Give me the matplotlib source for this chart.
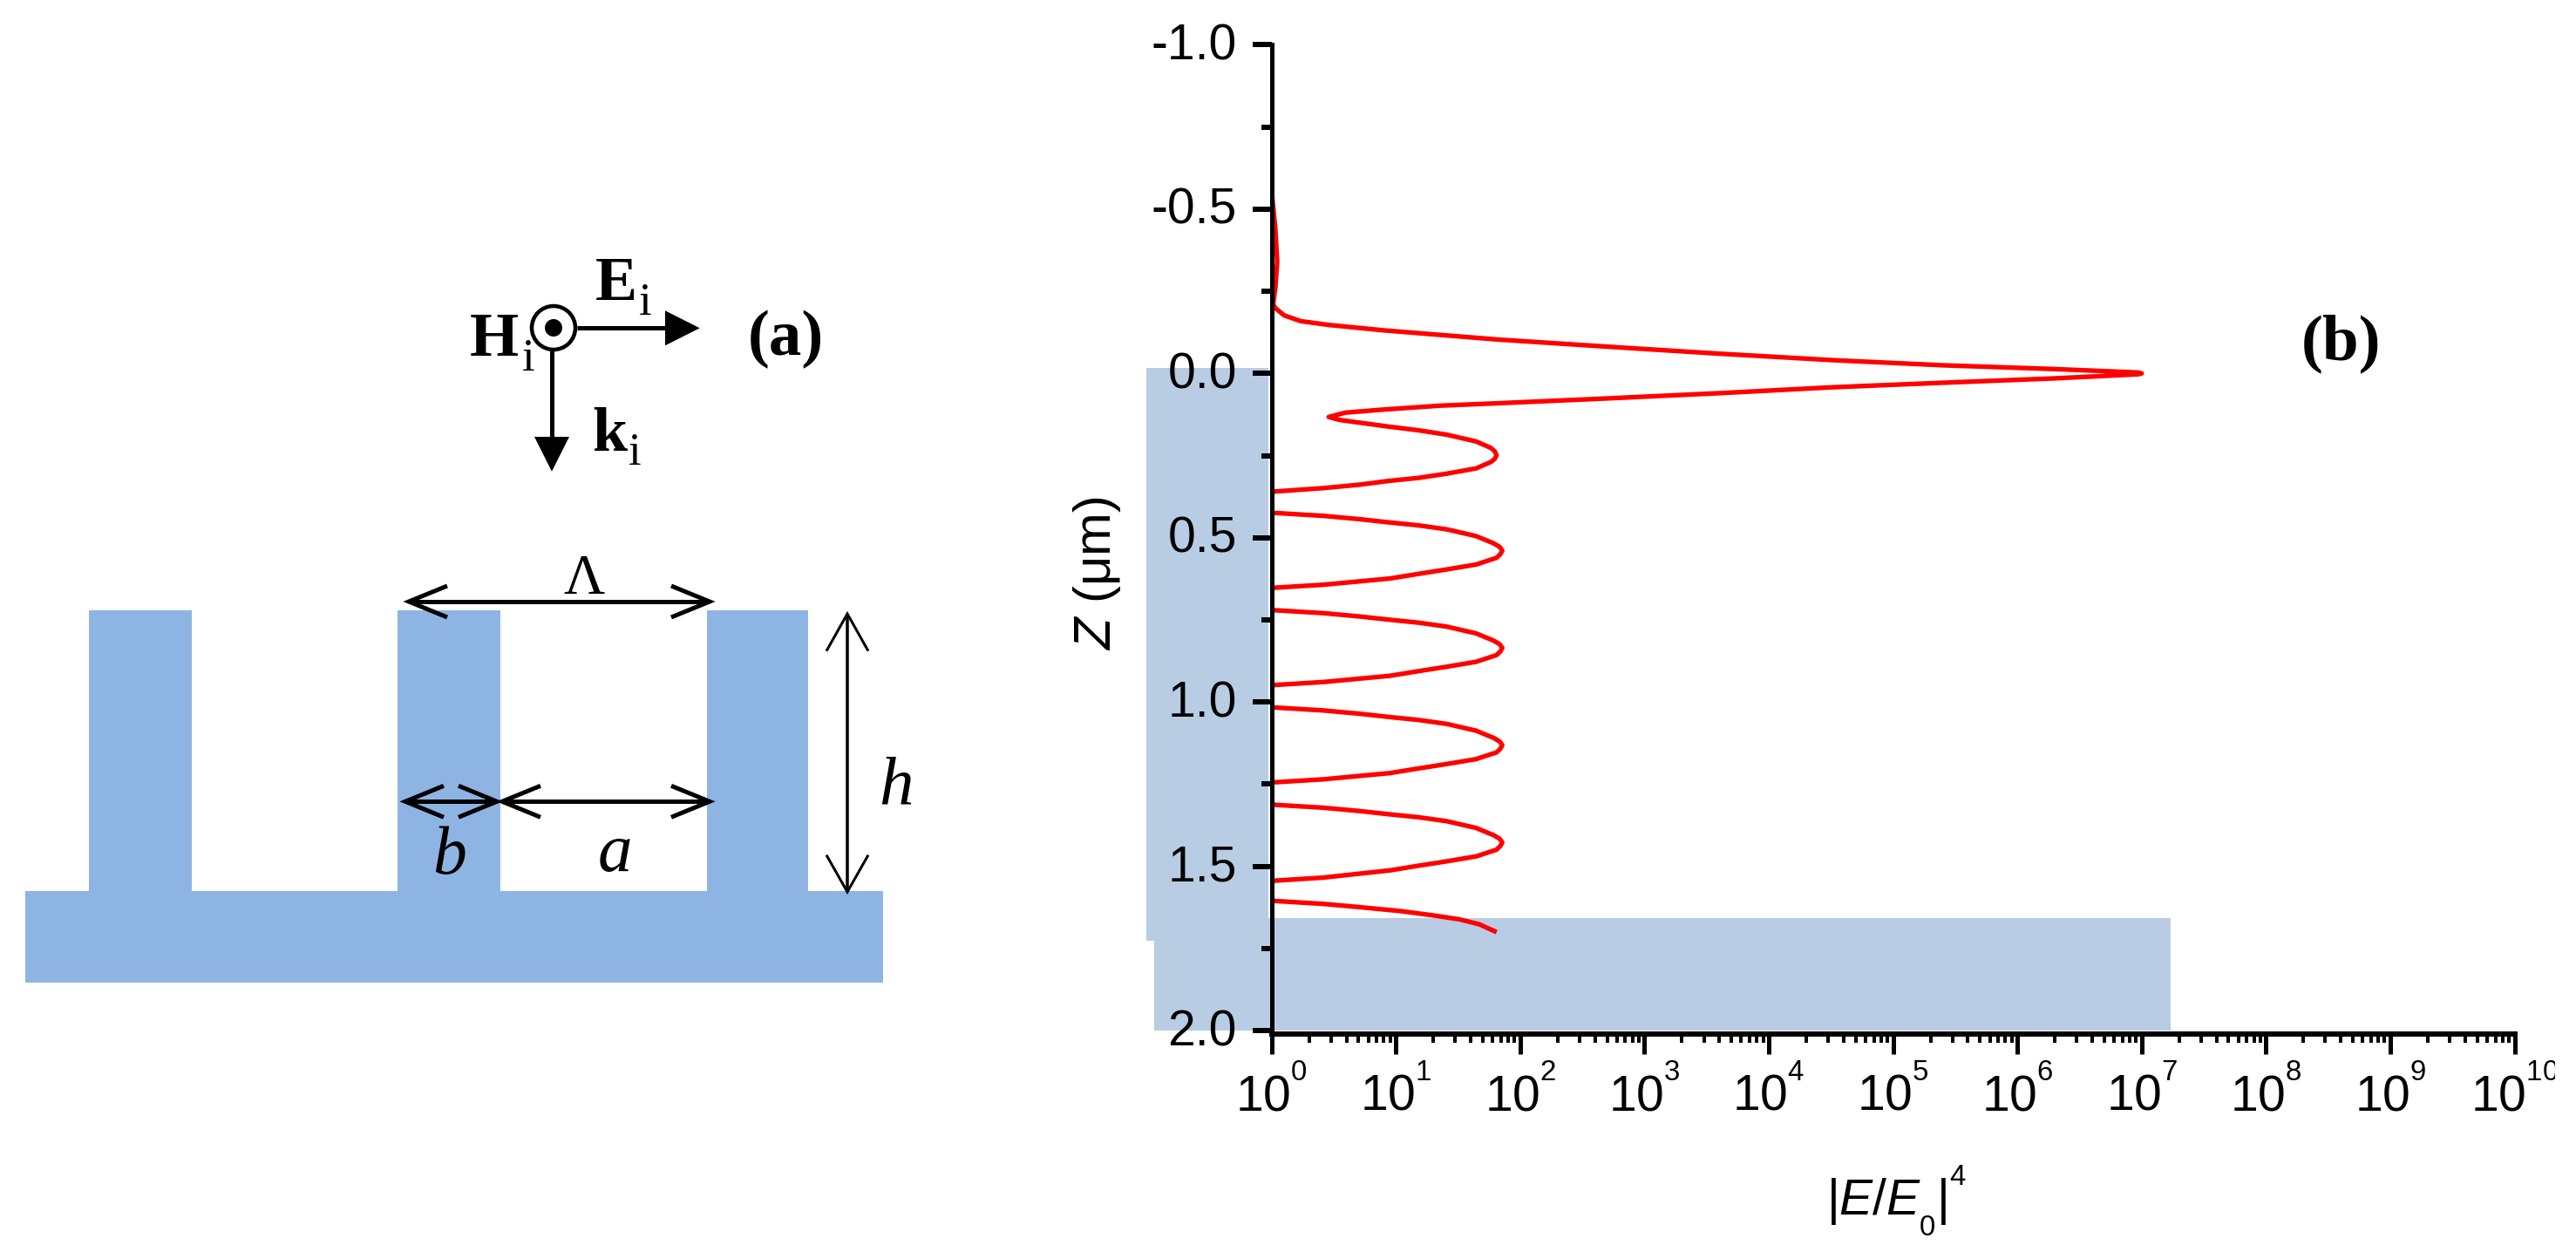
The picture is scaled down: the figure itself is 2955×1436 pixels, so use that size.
#!/usr/bin/env python3
# -*- coding: utf-8 -*-
import matplotlib
matplotlib.use('Agg')
import matplotlib.pyplot as plt
from matplotlib import _mathtext
from matplotlib.patches import Rectangle, Circle
from matplotlib.ticker import LogLocator, MultipleLocator, FormatStrFormatter, NullFormatter
from matplotlib.transforms import Bbox, ScaledTranslation
import numpy as np

# curve: depth z (um) and log10(|E/E0|^4)
z_peak = [-0.535, -0.44, -0.34, -0.26, -0.21, -0.199, -0.1767, -0.159, -0.1475, -0.1308, -0.1034, -0.0812, -0.06,
          -0.0406, -0.0247, -0.0132, -0.0027, 0.0, 0.0027, 0.0151, 0.0284, 0.0424, 0.0602, 0.0761, 0.0912, 0.0981,
          0.1098, 0.1194, 0.1326, 0.1416, 0.150, 0.162, 0.173, 0.1865, 0.207, 0.2264, 0.237, 0.2487, 0.26, 0.2697,
          0.289, 0.305, 0.318, 0.327, 0.3385, 0.349, 0.36]
log_peak = [0.005, 0.03, 0.045, 0.03, 0.012, 0.03, 0.1, 0.234, 0.459, 0.908, 1.807, 2.706, 3.6,
            4.5, 5.4, 6.3, 6.97, 7.0, 6.97, 6.3, 5.4, 4.5, 3.6, 2.7, 1.8, 1.357,
            0.908, 0.593, 0.459, 0.548, 0.71, 0.944, 1.18, 1.41, 1.645, 1.763, 1.795, 1.81, 1.795, 1.763,
            1.645, 1.41, 1.18, 0.944, 0.71, 0.416, 0.0]
z_lobe2 = [0.424, 0.4334, 0.4436, 0.4533, 0.4623, 0.4745, 0.495, 0.517, 0.528, 0.5392, 0.55, 0.561, 0.5815,
           0.5964, 0.61, 0.624, 0.643, 0.6526]
z_lobe3 = [0.72, 0.7294, 0.7396, 0.7493, 0.7583, 0.7705, 0.791, 0.813, 0.824, 0.8352, 0.846, 0.857, 0.8775,
           0.8924, 0.906, 0.92, 0.939, 0.9486]
z_lobe4 = [1.016, 1.0254, 1.0356, 1.0453, 1.0543, 1.0665, 1.087, 1.109, 1.12, 1.1312, 1.142, 1.153, 1.1735,
           1.1884, 1.202, 1.216, 1.235, 1.2446]
z_lobe5 = [1.312, 1.3214, 1.3316, 1.3413, 1.3503, 1.3625, 1.383, 1.405, 1.416, 1.4272, 1.438, 1.449, 1.4695,
           1.4844, 1.498, 1.512, 1.534, 1.544]
log_lobe = [0.0, 0.416, 0.71, 0.944, 1.18, 1.41, 1.645, 1.786, 1.835, 1.856, 1.84, 1.81, 1.645,
            1.41, 1.18, 0.953, 0.416, 0.0]
z_last = [1.6045, 1.614, 1.624, 1.636, 1.649, 1.661, 1.676, 1.70]
log_last = [0.0, 0.416, 0.71, 1.04, 1.3, 1.51, 1.67, 1.81]

# shaded layers behind the curve, [log10 left, log10 right, z top, z bottom]
film_layer = [-1.008, -0.026, -0.0175, 1.726]
substrate_layer = [-0.945, 7.233, 1.657, 2.0]

x_exponents = list(range(0, 11))
y_ticks = [-1.0, -0.5, 0.0, 0.5, 1.0, 1.5, 2.0]

LAYER = '#B8CCE4'
BLUE = '#8EB4E3'
RED = '#FF0000'
PX = 0.72  # pixels to points at dpi 100

plt.rcParams['font.family'] = 'Liberation Sans'
plt.rcParams['mathtext.fontset'] = 'custom'
plt.rcParams['mathtext.rm'] = 'Liberation Sans'
plt.rcParams['mathtext.it'] = 'Liberation Sans:italic'
plt.rcParams['mathtext.bf'] = 'Liberation Sans:bold'
plt.rcParams['mathtext.default'] = 'rm'

# smaller, higher exponents and lower subscripts than mathtext gives by default
_mathtext.SHRINK_FACTOR = 0.58
_mathtext.FontConstantsBase.sup1 = 1.15
_mathtext.FontConstantsBase.sub1 = 0.78

W, H = 2955, 1436
fig = plt.figure(figsize=(W / 100, H / 100), dpi=100)

# whole figure in pixel coordinates, for the sketch in panel (a)
sk = fig.add_axes([0, 0, 1, 1], zorder=0)
sk.set_xlim(0, W)
sk.set_ylim(H, 0)
sk.axis('off')

# panel (b)
left, right, top, bottom = 1458.7, 2884.6, 51.3, 1186
ax = fig.add_axes([left / W, 1 - bottom / H, (right - left) / W, (bottom - top) / H], zorder=1)
ax.patch.set_visible(False)
ax.set_xscale('log')
ax.set_xlim(1, 1e10)

for lay in (film_layer, substrate_layer):
    ax.add_patch(Rectangle((10 ** lay[0], lay[2]), 10 ** lay[1] - 10 ** lay[0], lay[3] - lay[2],
                           fc=LAYER, ec='none', clip_on=False, zorder=0.5))

curves = [(z_peak, log_peak), (z_lobe2, log_lobe), (z_lobe3, log_lobe), (z_lobe4, log_lobe),
          (z_lobe5, log_lobe), (z_last, log_last)]
for zz, ll in curves:
    ax.plot(10 ** np.array(ll), zz, color=RED, lw=5.3 * PX, solid_capstyle='butt', solid_joinstyle='round')

ax.spines['top'].set_visible(False)
ax.spines['right'].set_visible(False)
ax.spines['left'].set_linewidth(5 * PX)
ax.spines['bottom'].set_linewidth(6 * PX)

ax.xaxis.set_minor_locator(LogLocator(base=10, subs=np.arange(2, 10), numticks=12))
ax.xaxis.set_minor_formatter(NullFormatter())
ax.set_xticks([10.0 ** e for e in x_exponents])
ax.set_xticklabels(['$10^{%d}$' % e for e in x_exponents])
ax.yaxis.set_minor_locator(MultipleLocator(0.25))
ax.set_yticks(y_ticks)
ax.yaxis.set_major_formatter(FormatStrFormatter('%.1f'))
ax.set_ylim(2.01, -1.0)

ax.tick_params(axis='x', which='major', length=23 * PX, width=5 * PX, labelsize=41, pad=15 * PX)
ax.tick_params(axis='x', which='minor', length=10 * PX, width=4 * PX)
ax.tick_params(axis='y', which='major', length=22 * PX, width=6 * PX, labelsize=41, pad=18 * PX)
ax.tick_params(axis='y', which='minor', length=12 * PX, width=6 * PX)

# digits sit a little above their ticks in the original
for lab in ax.get_yticklabels():
    lab.set_transform(lab.get_transform() + ScaledTranslation(0, 4 / 100, fig.dpi_scale_trans))
# last label is cut off in the original
ax.get_xticklabels()[-1].set_clip_box(Bbox([[0, 0], [2931, H]]))
ax.get_xticklabels()[-1].set_clip_on(True)

ax.set_ylabel(r'$\mathit{Z}$ (μm)', fontsize=43, ha='center', va='baseline', rotation_mode='anchor')
ax.yaxis.set_label_coords((1274.3 - left) / (right - left), 1 - (658 - top) / (bottom - top))
ax.set_xlabel(r'$|\mathit{E}/\mathit{E}_{0}|^{4}$', fontsize=41, ha='center', va='baseline')
ax.xaxis.set_label_coords((2176 - left) / (right - left), (bottom - 1394) / (bottom - top))


# sketch of the grating
def stext(x, y, s, size, **kw):
    kw.setdefault('ha', 'left')
    sk.text(x, y, s, fontsize=size, va='baseline', family='Liberation Serif', **kw)


sk.add_patch(Rectangle((28.8, 1022), 1013 - 28.8, 1126.7 - 1022, fc=BLUE, ec='none'))
for x0, x1 in [(101.8, 220), (456, 574), (810.5, 927)]:
    sk.add_patch(Rectangle((x0, 700), x1 - x0, 1022 - 700, fc=BLUE, ec='none'))

# Lambda, a, b dimension arrows
for x0, x1, y in [(469, 814, 690), (576, 814, 919.3), (465, 570, 919.3)]:
    sk.plot([x0, x1], [y, y], color='k', lw=5 * PX, solid_capstyle='butt')
    sk.plot([x0 + 44, x0, x0 + 44], [y - 18, y, y + 18], color='k', lw=5 * PX,
            solid_joinstyle='miter', solid_capstyle='butt')
    sk.plot([x1 - 44, x1, x1 - 44], [y - 18, y, y + 18], color='k', lw=5 * PX,
            solid_joinstyle='miter', solid_capstyle='butt')

# h arrow
sk.plot([972, 972], [704, 1023], color='k', lw=3.5 * PX, solid_capstyle='butt')
sk.plot([948, 972, 996], [746.7, 704, 746.7], color='k', lw=3 * PX, solid_joinstyle='miter', solid_capstyle='butt')
sk.plot([948, 972, 996], [980.7, 1023, 980.7], color='k', lw=3 * PX, solid_joinstyle='miter', solid_capstyle='butt')

stext(670, 680.7, 'Λ', 47, ha='center')
stext(516, 1001.7, 'b', 56, style='italic', ha='center')
stext(705, 999, 'a', 57, style='italic', ha='center')
stext(1028, 922.7, 'h', 57, style='italic', ha='center')

# incident field
sk.plot([662, 765], [376.3, 376.3], color='k', lw=5 * PX, solid_capstyle='butt')
sk.fill([763, 802.7, 763], [356.3, 376.3, 396.3], color='k', lw=0)
sk.plot([633, 633], [400, 503], color='k', lw=5 * PX, solid_capstyle='butt')
sk.fill([613, 633, 653], [501, 540.7, 501], color='k', lw=0)
sk.add_patch(Circle((635, 376), 25, fc='none', ec='k', lw=4.5 * PX))
sk.add_patch(Circle((635, 376), 10, fc='k', ec='none'))

stext(683, 344, 'E', 52, weight='bold')
stext(733, 360.7, 'i', 38)
stext(539, 408, 'H', 52, weight='bold')
stext(599, 425, 'i', 38)
stext(679, 517, 'k', 52, weight='bold')
stext(721, 533, 'i', 38)
stext(858, 407, '(a)', 54, weight='bold')
stext(2640, 411.7, '(b)', 54, weight='bold')

fig.savefig('out.png', dpi=100, facecolor='white')
